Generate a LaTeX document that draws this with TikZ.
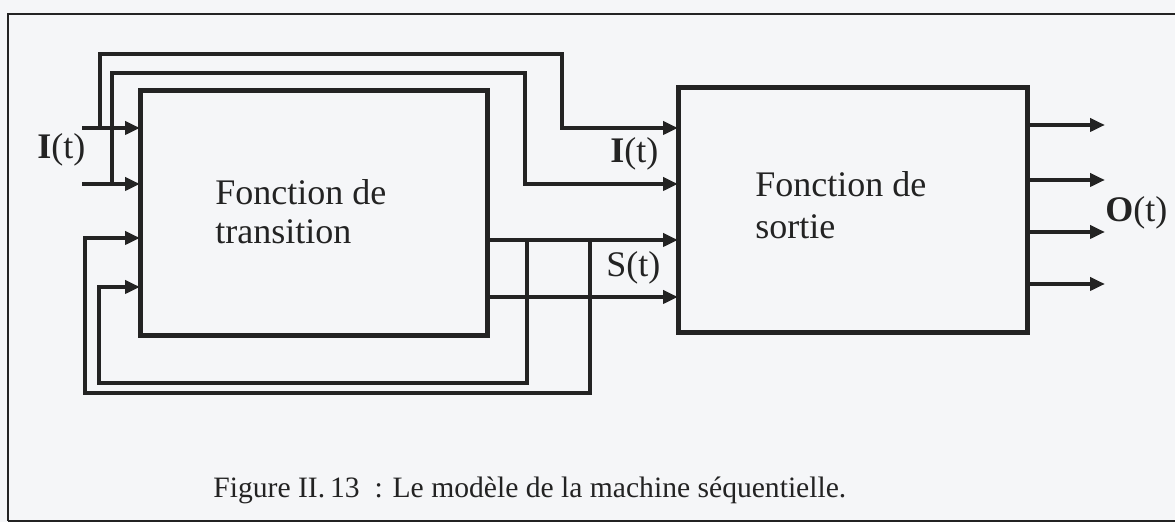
\documentclass[tikz,border=0pt]{standalone}
\usepackage{fontspec}
\setmainfont{Liberation Serif}
\usetikzlibrary{arrows.meta}
\definecolor{ink}{HTML}{232323}
\definecolor{paper}{HTML}{F5F6F8}
\tikzset{
  blk/.style={draw=ink, line width=2.5pt, inner sep=0pt, outer sep=0pt},
  wire/.style={draw=ink, line width=2.2pt},
  arr/.style={wire, -{Triangle[length=7.5pt,width=6.5pt]}},
  txt/.style={text=ink, font=\fontsize{18}{20}\selectfont, inner sep=0pt, anchor=base west},
  captxt/.style={text=ink, font=\fontsize{14.8}{17}\selectfont, inner sep=0pt, anchor=base west},
  framestyle/.style={draw=ink, line width=1.1pt}
}
\begin{document}
\begin{tikzpicture}[x=0.5pt,y=-0.5pt]
\useasboundingbox[fill=paper] (0,0) rectangle (1175,522);
% frame
\draw[framestyle] (8,521) -- (8,14) -- (1175,14);
\draw[framestyle] (8,521) -- (1175,521);
% blocks
\node[blk, minimum width=173.5pt, minimum height=122.5pt] (b1) at (313.5,213.5) {};
\node[blk, minimum width=174.5pt, minimum height=122.5pt] (b2) at (852.5,210.5) {};
% block texts
\node[txt] (t1a) at (215,205) {Fonction de};
\node[txt] (t1b) at (215,244) {transition};
\node[txt] (t2a) at (755,197) {Fonction de};
\node[txt] (t2b) at (755,239) {sortie};
% labels
\node[txt] (lI) at (37,159) {\textbf{I}(t)};
\node[txt] (lI2) at (610,163) {\textbf{I}(t)};
\node[txt] (lS) at (606,277) {S(t)};
\node[txt] (lO) at (1105,222) {\textbf{O}(t)};
% caption
\node[captxt] (cap) at (213,498) {Figure II.\,13~~: Le modèle de la machine séquentielle.};
% primary inputs to block 1
\coordinate (inA) at (82,128);
\coordinate (inB) at (82,184);
\draw[arr] (inA) -- (inA -| b1.west);
\draw[arr] (inB) -- (inB -| b1.west);
% branches of I(t) to block 2
\coordinate (jA) at (100,128);
\coordinate (uA1) at (100,54);
\coordinate (uA2) at (562,54);
\coordinate (uA3) at (562,128);
\draw[arr] (jA) -- (uA1) -- (uA2) -- (uA3) -- (uA3 -| b2.west);
\coordinate (jB) at (112,184);
\coordinate (uB1) at (112,73);
\coordinate (uB2) at (525,73);
\coordinate (uB3) at (525,184);
\draw[arr] (jB) -- (uB1) -- (uB2) -- (uB3) -- (uB3 -| b2.west);
% state outputs of block 1 to block 2
\coordinate (oA) at (487,240);
\coordinate (oB) at (487,297);
\draw[arr] (oA -| b1.east) -- (oA -| b2.west);
\draw[arr] (oB -| b1.east) -- (oB -| b2.west);
% feedback loops
\coordinate (fA) at (527,240);
\coordinate (fA1) at (527,383);
\coordinate (fA2) at (99,383);
\coordinate (fA3) at (99,287);
\draw[arr] (fA) -- (fA1) -- (fA2) -- (fA3) -- (fA3 -| b1.west);
\coordinate (fB) at (590,240);
\coordinate (fB1) at (590,393);
\coordinate (fB2) at (85,393);
\coordinate (fB3) at (85,238);
\draw[arr] (fB) -- (fB1) -- (fB2) -- (fB3) -- (fB3 -| b1.west);
% outputs of block 2
\foreach \y in {125,180,232,284}{
  \coordinate (q\y) at (1105,\y);
  \draw[arr] (q\y -| b2.east) -- (q\y);
}
\end{tikzpicture}
\end{document}
